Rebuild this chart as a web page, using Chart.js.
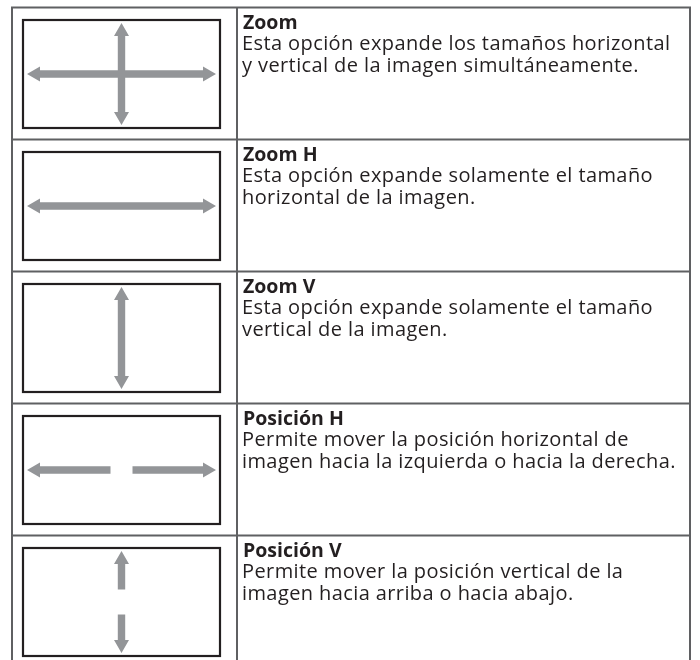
<!DOCTYPE html>
<html>
<head>
<meta charset="utf-8">
<script src="https://cdn.jsdelivr.net/npm/chart.js@4/dist/chart.umd.min.js"></script>
<style>
  html, body { margin: 0; padding: 0; background: #fff; }
  #wrap { width: 700px; height: 660px; }
</style>
</head>
<body>
<div id="wrap"><canvas id="c"></canvas></div>
<script>
// table content
const titles = ['Zoom', 'Zoom H', 'Zoom V', 'Posición H', 'Posición V']
const descriptions = [
  ['Esta opción expande los tamaños horizontal', 'y vertical de la imagen simultáneamente.'],
  ['Esta opción expande solamente el tamaño', 'horizontal de la imagen.'],
  ['Esta opción expande solamente el tamaño', 'vertical de la imagen.'],
  ['Permite mover la posición horizontal de', 'imagen hacia la izquierda o hacia la derecha.'],
  ['Permite mover la posición vertical de la', 'imagen hacia arriba o hacia abajo.']
]
// which arrows go in each little screen
const arrowKinds = ['both', 'h', 'v', 'h-split', 'v-split']

// layout (in scale units, 1 unit = 1px)
const tableLeft = 12, tableRight = 690, colDivider = 237
const firstRowTop = 7.5, rowHeight = 132
const frameLeft = 23, frameWidth = 197, frameInset = 13, frameHeight = 108
const arrowColor = '#939598'
const shaftHalf = 3.7, headLen = 13, headHalf = 7.5

function arrowShape(ctx, x1, y1, x2, y2) {
  // single head at (x2, y2)
  let dx = x2 - x1, dy = y2 - y1
  let len = Math.hypot(dx, dy)
  let ux = dx / len, uy = dy / len
  let nx = -uy, ny = ux
  let bx = x2 - ux * headLen, by = y2 - uy * headLen
  ctx.moveTo(x1 + nx * shaftHalf, y1 + ny * shaftHalf)
  ctx.lineTo(bx + nx * shaftHalf, by + ny * shaftHalf)
  ctx.lineTo(bx + nx * headHalf, by + ny * headHalf)
  ctx.lineTo(x2, y2)
  ctx.lineTo(bx - nx * headHalf, by - ny * headHalf)
  ctx.lineTo(bx - nx * shaftHalf, by - ny * shaftHalf)
  ctx.lineTo(x1 - nx * shaftHalf, y1 - ny * shaftHalf)
  ctx.closePath()
}

function spacedText(ctx, text, x, y, spacing) {
  if ('letterSpacing' in ctx) {
    ctx.letterSpacing = spacing + 'px'
    ctx.fillText(text, x, y)
    ctx.letterSpacing = '0px'
  } else {
    let w = ctx.measureText(text).width
    let k = (w + spacing * text.length) / w
    ctx.save()
    ctx.translate(x, y)
    ctx.scale(k, 1)
    ctx.fillText(text, 0, 0)
    ctx.restore()
  }
}

const tablePlugin = {
  id: 'tablePlugin',
  afterDraw(chart) {
    const ctx = chart.ctx
    const sx = chart.scales.x, sy = chart.scales.y
    const px = v => sx.getPixelForValue(v)
    const py = v => sy.getPixelForValue(v)
    const bottom = 660

    ctx.save()

    // table grid
    ctx.strokeStyle = '#5f6062'
    ctx.lineWidth = 2
    ctx.beginPath()
    ;[tableLeft, colDivider, tableRight].forEach(x => {
      ctx.moveTo(px(x), py(firstRowTop - 1))
      ctx.lineTo(px(x), py(bottom))
    })
    titles.forEach((t, i) => {
      let y = firstRowTop + i * rowHeight
      ctx.moveTo(px(tableLeft), py(y))
      ctx.lineTo(px(tableRight), py(y))
    })
    ctx.stroke()

    titles.forEach((title, i) => {
      let top = firstRowTop + i * rowHeight
      let fTop = top + frameInset - 0.5
      let fBottom = fTop + frameHeight
      let fRight = frameLeft + frameWidth
      let cx = frameLeft + frameWidth / 2
      let cy = (fTop + fBottom) / 2

      // screen frame
      ctx.strokeStyle = '#231f20'
      ctx.lineWidth = 2.2
      ctx.strokeRect(px(frameLeft), py(fTop), px(fRight) - px(frameLeft), py(fBottom) - py(fTop))

      // arrows
      ctx.fillStyle = arrowColor
      ctx.beginPath()
      let kind = arrowKinds[i]
      let l = frameLeft + 4, r = fRight - 4, t = fTop + 3, b = fBottom - 3
      if (kind === 'both' || kind === 'h') {
        arrowShape(ctx, px(cx), py(cy), px(l), py(cy))
        arrowShape(ctx, px(cx), py(cy), px(r), py(cy))
      }
      if (kind === 'both' || kind === 'v') {
        arrowShape(ctx, px(cx), py(cy), px(cx), py(t))
        arrowShape(ctx, px(cx), py(cy), px(cx), py(b))
      }
      if (kind === 'h-split') {
        arrowShape(ctx, px(cx - 11), py(cy), px(l), py(cy))
        arrowShape(ctx, px(cx + 11), py(cy), px(r), py(cy))
      }
      if (kind === 'v-split') {
        arrowShape(ctx, px(cx), py(cy - 12.5), px(cx), py(t))
        arrowShape(ctx, px(cx), py(cy + 12.5), px(cx), py(b))
      }
      ctx.fill('nonzero')

      // texts
      ctx.fillStyle = '#231f20'
      ctx.textAlign = 'left'
      ctx.textBaseline = 'alphabetic'
      ctx.font = 'bold 19.5px "Open Sans"'
      spacedText(ctx, title, px(colDivider + 6), py(top + 21), 0)
      ctx.font = '20px "Open Sans"'
      descriptions[i].forEach((line, k) => {
        spacedText(ctx, line, px(colDivider + 5), py(top + 42.5 + k * 21.5), 0.4)
      })
    })

    ctx.restore()
  }
}

new Chart(document.getElementById('c'), {
  type: 'scatter',
  data: { datasets: [{ data: [] }] },
  options: {
    animation: false,
    responsive: true,
    maintainAspectRatio: false,
    layout: { padding: 0 },
    plugins: { legend: { display: false }, tooltip: { enabled: false } },
    scales: {
      x: { type: 'linear', min: 0, max: 700, display: false },
      y: { type: 'linear', min: 0, max: 660, reverse: true, display: false }
    }
  },
  plugins: [tablePlugin]
})
</script>
</body>
</html>
